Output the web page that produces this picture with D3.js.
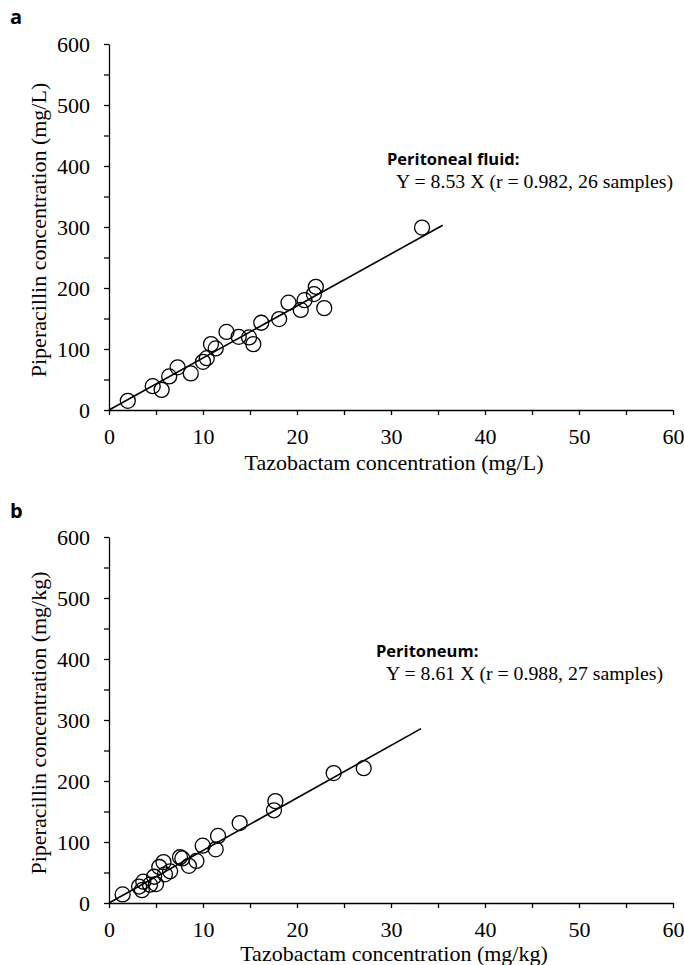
<!DOCTYPE html>
<html>
<head>
<meta charset="utf-8">
<script src="https://cdn.jsdelivr.net/npm/d3@7"></script>
<style>
  body { margin: 0; background: #fff; }
  svg text { fill: #000; }
  .serif { font-family: "Liberation Serif", "Times New Roman", serif; }
  .sansbold { font-family: "Open Sans", "Liberation Sans", sans-serif; font-weight: bold; }
</style>
</head>
<body>
<div id="svganchor"></div>
<script>
let width = 684;
let height = 965;

// panel a: peritoneal fluid
let tazoA = [2.0, 4.65, 5.6, 6.4, 7.3, 8.7, 10.0, 10.4, 10.85, 11.35, 12.5, 13.8, 14.9, 15.35, 16.2, 18.1, 19.1, 20.4, 20.8, 21.8, 22.0, 22.9, 33.3];
let pipA = [15, 39, 33, 55, 70, 60, 79, 85, 108, 101, 128, 120, 119, 108, 143, 149, 176, 164, 180, 190, 202, 167, 299];

// panel b: peritoneum
let tazoB = [1.45, 3.2, 3.5, 3.65, 4.36, 4.8, 5.0, 5.35, 5.8, 5.95, 6.5, 7.55, 7.8, 8.5, 9.3, 9.97, 11.35, 11.6, 13.9, 17.55, 17.7, 23.9, 27.1];
let pipB = [14, 27, 21, 35, 30, 43, 31, 59, 67, 47, 52, 75, 73, 61, 69, 94, 88, 110, 131, 152, 167, 213, 221];

let panelLetters = ["a", "b"];
let slopes = [8.53, 8.61];
let lineEnds = [35.5, 33.2];
let sites = ["Peritoneal fluid:", "Peritoneum:"];
let equations = ["Y = 8.53 X (r = 0.982, 26 samples)", "Y = 8.61 X (r = 0.988, 27 samples)"];
let units = ["mg/L", "mg/kg"];

let xTicks = d3.range(0, 61, 5);
let yTicks = d3.range(0, 601, 50);

let svg = d3.select("#svganchor").append("svg").attr("width", width).attr("height", height);

let xScale = d3.scaleLinear().domain([0, 60]).range([109, 673]);

// top / bottom pixel for each panel
let panels = [
  { top: 44, bottom: 410, x: tazoA, y: pipA, labelX: 387, labelY: 165, eqX: 396, letterY: 24, titleY: 470 },
  { top: 537, bottom: 903, x: tazoB, y: pipB, labelX: 376, labelY: 657, eqX: 386, letterY: 518, titleY: 961 }
];

panels.forEach(function (p, i) {
  let yScale = d3.scaleLinear().domain([0, 600]).range([p.bottom, p.top]);
  let g = svg.append("g");

  let xAxis = d3.axisBottom(xScale)
    .tickValues(xTicks)
    .tickSize(5)
    .tickSizeOuter(0)
    .tickPadding(13)
    .tickFormat(function (d) { return d % 10 === 0 ? d : ""; });

  let yAxis = d3.axisLeft(yScale)
    .tickValues(yTicks)
    .tickSize(5)
    .tickSizeOuter(0)
    .tickPadding(14)
    .tickFormat(function (d) { return d % 100 === 0 ? d : ""; });

  g.append("g")
    .attr("transform", "translate(0," + p.bottom + ")")
    .call(xAxis);

  g.append("g")
    .attr("transform", "translate(" + xScale(0) + ",0)")
    .call(yAxis);

  g.selectAll(".domain, .tick line").attr("stroke", "#000").attr("stroke-width", 1.3);
  g.selectAll(".tick text")
    .attr("class", "serif")
    .style("font-size", "22px")
    .attr("fill", "#000");

  // axis titles
  g.append("text")
    .attr("class", "serif")
    .attr("x", 394)
    .attr("y", p.titleY)
    .attr("text-anchor", "middle")
    .style("font-size", "22px")
    .text("Tazobactam concentration (" + units[i] + ")");

  g.append("text")
    .attr("class", "serif")
    .attr("transform", "translate(46," + ((p.top + p.bottom) / 2 + 3) + ") rotate(-90)")
    .attr("text-anchor", "middle")
    .style("font-size", "22px")
    .text("Piperacillin concentration (" + units[i] + ")");

  // panel letter
  g.append("text")
    .attr("class", "sansbold")
    .attr("x", 10)
    .attr("y", p.letterY)
    .style("font-size", "20px")
    .text(panelLetters[i]);

  // regression line through origin
  g.append("line")
    .attr("x1", xScale(0))
    .attr("y1", yScale(0))
    .attr("x2", xScale(lineEnds[i]))
    .attr("y2", yScale(slopes[i] * lineEnds[i]))
    .attr("stroke", "#000")
    .attr("stroke-width", 1.6);

  // sample circles
  g.selectAll(".pt")
    .data(d3.range(p.x.length))
    .enter()
    .append("circle")
    .attr("class", "pt")
    .attr("cx", function (d) { return xScale(p.x[d]); })
    .attr("cy", function (d) { return yScale(p.y[d]); })
    .attr("r", 7.5)
    .attr("fill", "none")
    .attr("stroke", "#000")
    .attr("stroke-width", 1.3);

  // annotation
  g.append("text")
    .attr("class", "sansbold")
    .attr("x", p.labelX)
    .attr("y", p.labelY)
    .style("font-size", "16.5px")
    .text(sites[i]);

  g.append("text")
    .attr("class", "serif")
    .attr("x", p.eqX)
    .attr("y", p.labelY + 23)
    .style("font-size", "19.8px")
    .text(equations[i]);
});
</script>
</body>
</html>
